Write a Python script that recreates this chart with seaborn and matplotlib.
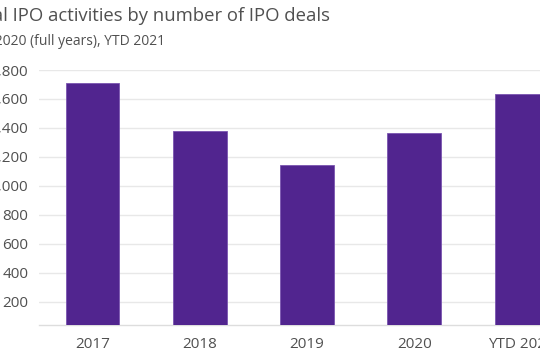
import pandas as pd
import seaborn as sns
import matplotlib.pyplot as plt
from matplotlib.ticker import FuncFormatter

# values
years = ['2017', '2018', '2019', '2020', 'YTD 2021']
deals = [1710, 1380, 1145, 1368, 1637]
yticks = [200, 400, 600, 800, 1000, 1200, 1400, 1600, 1800]

title = 'Global IPO activities by number of IPO deals'
subtitle = '2017\u20132020 (full years), YTD 2021'

df = pd.DataFrame({'Year': years, 'Deals': deals})

sns.set_style('white')
plt.rcParams['font.family'] = ['Open Sans', 'DejaVu Sans']

text_col = '#505050'
grid_col = '#e8e8e8'

fig = plt.figure(figsize=(5.4, 3.6), dpi=100)
# the chart is a crop: plot area runs past the right edge of the picture
ax = fig.add_axes([39 / 540, 35 / 360, 536 / 540, 255 / 360])

sns.barplot(data=df, x='Year', y='Deals', color='#51258f', saturation=1,
            width=0.5, edgecolor='#7a55b0', linewidth=0.6, ax=ax, zorder=3)

ax.set_ylim(40, 1800)
ax.set_xlim(-0.5, 4.5)
ax.set_yticks(yticks)
ax.yaxis.set_major_formatter(FuncFormatter(lambda v, p: f'{int(v):,}'))
ax.grid(axis='y', color=grid_col, linewidth=1, zorder=0)
ax.set_axisbelow(True)

for side in ['top', 'right', 'left']:
    ax.spines[side].set_visible(False)
ax.spines['bottom'].set_color('#dddddd')
ax.spines['bottom'].set_linewidth(1)

ax.tick_params(axis='y', length=4.5, width=1, color=grid_col, pad=3,
               labelsize=11, labelcolor=text_col)
ax.tick_params(axis='x', length=4, width=1, color='#dddddd', pad=5,
               labelsize=11, labelcolor=text_col)
ax.set_xlabel('')
ax.set_ylabel('')

fig.text(330 / 540, 1 - 21 / 360, title, ha='right', va='baseline',
         fontsize=13.3, color=text_col)
fig.text(165 / 540, 1 - 45 / 360, subtitle, ha='right', va='baseline',
         fontsize=10, color=text_col)

fig.savefig('out.png', dpi=100)
